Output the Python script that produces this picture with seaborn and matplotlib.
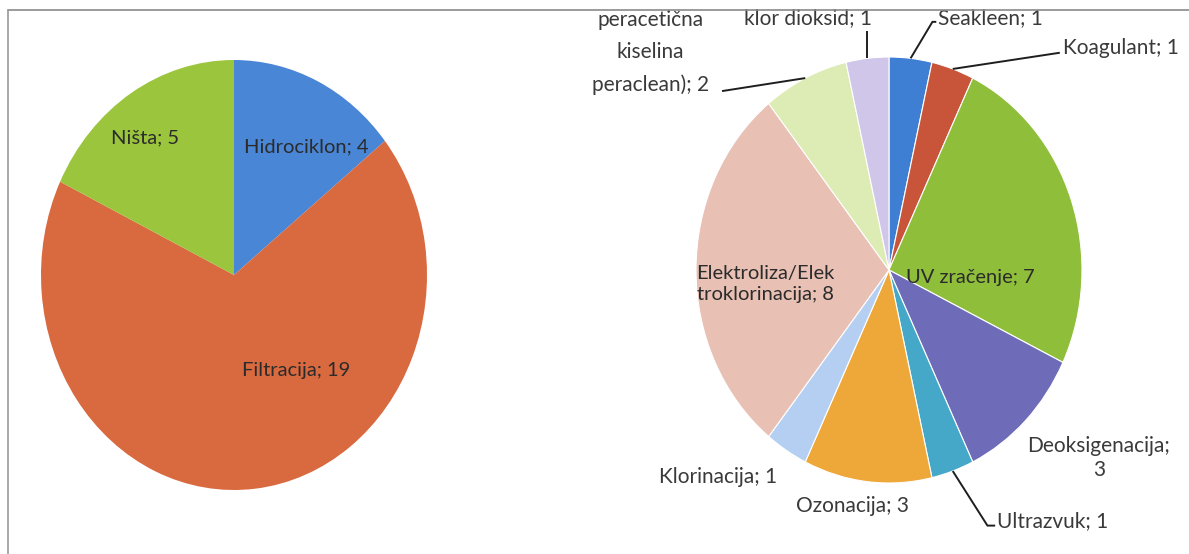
import numpy as np
import matplotlib
matplotlib.use('Agg')
import matplotlib.pyplot as plt
import seaborn as sns
from matplotlib.lines import Line2D

sns.set_theme(style='white')
plt.rcParams['font.family'] = ['Lato', 'DejaVu Sans']

# lijevi graf
left_labels = ['Hidrociklon', 'Filtracija', 'Ništa']
left_values = [4, 19, 5]
left_colors = ['#4A86D6', '#D9693F', '#9BC53D']

# desni graf
right_labels = ['Seakleen', 'Koagulant', 'UV zračenje', 'Deoksigenacija', 'Ultrazvuk',
                'Ozonacija', 'Klorinacija', 'Elektroliza/Elek\ntroklorinacija',
                'peracetična\nkiselina\nperaclean)', 'klor dioksid']
right_values = [1, 1, 7, 3, 1, 3, 1, 8, 2, 1]
right_colors = ['#3F7FD3', '#C8553A', '#8FBE3A', '#6E6CB8', '#45A8C8',
                '#EEA83A', '#B5CFF2', '#E8C0B4', '#DDEBB5', '#CFC6EA']

fig = plt.figure(figsize=(11.89, 5.54), dpi=100)
fig.patch.set_facecolor('white')

# okvir (rub skenirane slike)
fig.add_artist(Line2D([8 / 1189, 1], [1 - 10 / 554, 1 - 10 / 554], color='#8a8a8a', lw=1.2))
fig.add_artist(Line2D([8 / 1189, 8 / 1189], [0, 1 - 10 / 554], color='#9a9a9a', lw=1.2))


def draw_pie(ax, values, colors, lw):
    wedges, _ = ax.pie(values, colors=colors, startangle=90, counterclock=False,
                       wedgeprops=dict(linewidth=lw, edgecolor='white'))
    ax.set_aspect('auto')
    ax.set_xlim(-1, 1)
    ax.set_ylim(-1, 1)
    ax.set_axis_off()
    return wedges


def edge_point(w, r=1.0):
    a = np.deg2rad((w.theta1 + w.theta2) / 2)
    return r * np.cos(a), r * np.sin(a)


# ---- lijevi ----
ax1 = fig.add_axes([41 / 1189, 1 - 490 / 554, 386 / 1189, 430 / 554])
draw_pie(ax1, left_values, left_colors, 0)
left_pos = [(0.373, 0.595), (0.321, -0.442), (-0.461, 0.637)]
for lab, val, (x, y) in zip(left_labels, left_values, left_pos):
    ax1.text(x, y, f'{lab}; {val}', ha='center', va='center', fontsize=14.5, color='#2b2b2b')

# ---- desni ----
ax2 = fig.add_axes([696 / 1189, 1 - 483 / 554, 386 / 1189, 426 / 554])
wedges = draw_pie(ax2, right_values, right_colors, 0.8)

right_pos = [
    (0.254, 1.183, 'left'),
    (0.902, 1.042, 'left'),
    (0.42, -0.033, 'center'),
    (1.088, -0.883, 'center'),
    (0.56, -1.178, 'left'),
    (-0.187, -1.108, 'center'),
    (-0.886, -0.972, 'center'),
    (-0.642, -0.066, 'center'),
    (-1.238, 1.019, 'center'),
    (-0.42, 1.183, 'center'),
]
inside = {2, 7}
for i, (lab, val, (x, y, ha)) in enumerate(zip(right_labels, right_values, right_pos)):
    txt = f'{lab}; {val}'
    if i == 3:
        txt = f'{lab};\n{val}'
    ax2.text(x, y, txt, ha=ha, va='center',
             fontsize=14.5 if i in inside else 15,
             color='#2b2b2b' if i in inside else '#3a3a3a',
             linespacing=1.75 if i == 8 else 1.3, multialignment='center')

# vodeće linije
lc = dict(color='#1e1e1e', lw=1.4, solid_capstyle='butt', clip_on=False)
# Seakleen
x0, y0 = edge_point(wedges[0])
ax2.plot([x0, 0.225, 0.245], [y0, 1.165, 1.165], **lc)
# Koagulant
x0, y0 = edge_point(wedges[1])
ax2.plot([x0, 0.885], [y0, 1.02], **lc)
# Ultrazvuk
x0, y0 = edge_point(wedges[4])
ax2.plot([x0, 0.51, 0.55], [y0, -1.20, -1.20], **lc)
# peraclean
x0, y0 = edge_point(wedges[8])
ax2.plot([x0, -0.865], [y0, 0.84], **lc)
# klor dioksid
x0, y0 = edge_point(wedges[9])
ax2.plot([x0, x0], [y0, 1.12], **lc)

fig.savefig('out.png', dpi=100, facecolor='white')
